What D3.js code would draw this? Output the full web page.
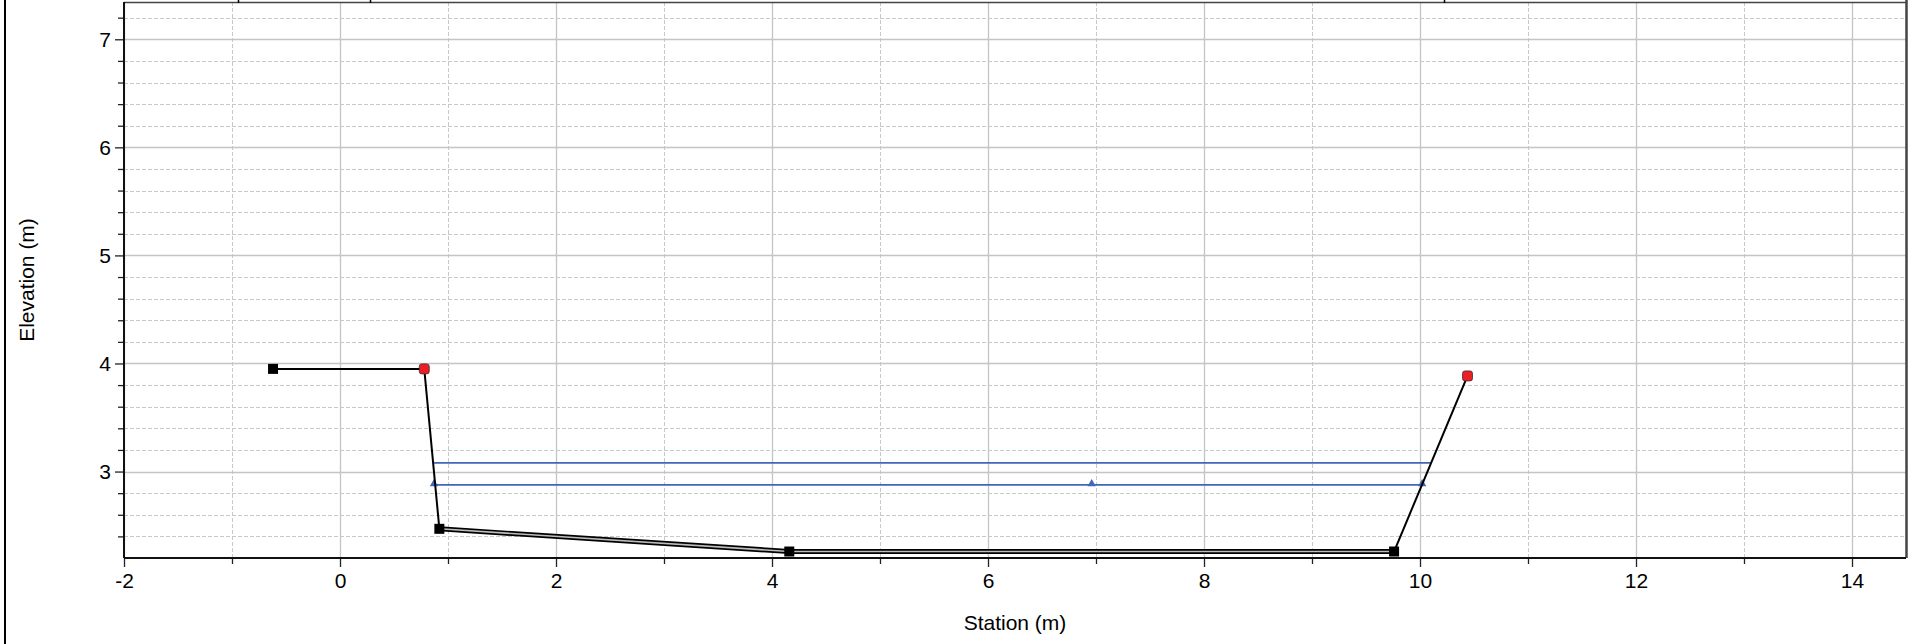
<!DOCTYPE html>
<html>
<head>
<meta charset="utf-8">
<script src="https://cdn.jsdelivr.net/npm/d3@7"></script>
<style>
html,body{margin:0;padding:0;background:#fff;}
svg{display:block;font-family:"Liberation Sans",Arial,sans-serif;}
</style>
</head>
<body>
<svg id="chart" width="1910" height="644"></svg>
<script>
// ---- data ----
const groundStation = [-0.62, 0.78, 0.92, 4.16, 9.76, 10.44];
const groundElev    = [3.95, 3.95, 2.47, 2.26, 2.26, 3.885];
const groundMarker  = ["sq", "bank", "sq", "sq", "sq", "bank"];
const linedFrom = 2, linedTo = 4; // index range drawn as lined (double) segment
const wsUpperStation = [0.86, 10.10];
const wsUpperElev    = [3.08, 3.08];
const wsLowerStation = [0.87, 6.96, 10.02];
const wsLowerElev    = [2.877, 2.877, 2.877];
const topMarks = [-0.94, 0.275, 10.22];
const xMajorTicks = [-2, 0, 2, 4, 6, 8, 10, 12, 14];
const xMinorTicks = [-1, 1, 3, 5, 7, 9, 11, 13];
const yMajorTicks = [3, 4, 5, 6, 7];
const yMinorTicks = [2.4, 2.6, 2.8, 3.2, 3.4, 3.6, 3.8, 4.2, 4.4, 4.6, 4.8, 5.2, 5.4, 5.6, 5.8, 6.2, 6.4, 6.6, 6.8, 7.2];
const xTitle = "Station (m)";
const yTitle = "Elevation (m)";

// ---- layout ----
const W = 1910, H = 644;
const m = {left:124, right:4, top:2, bottom:86};
const svg = d3.select("#chart");
const x = d3.scaleLinear().domain([-2, 14.5]).range([m.left, W - m.right]);
const y = d3.scaleLinear().domain([2.2, 7.345]).range([H - m.bottom, m.top]);
const x0 = m.left, x1 = W - m.right, y0 = H - m.bottom, y1 = m.top;
const fmt = d => String(d);

// outer left frame line
svg.append("line").attr("x1",5).attr("x2",5).attr("y1",0).attr("y2",H)
  .attr("stroke","#000").attr("stroke-width",2);

// grid
const g = svg.append("g");
g.selectAll(".ymin").data(yMinorTicks).join("line")
  .attr("x1",x0).attr("x2",x1).attr("y1",d=>Math.round(y(d))+0.5).attr("y2",d=>Math.round(y(d))+0.5)
  .attr("stroke","#c8c8c8").attr("stroke-dasharray","4,2");
g.selectAll(".xmin").data(xMinorTicks).join("line")
  .attr("y1",y0).attr("y2",y1).attr("x1",d=>Math.round(x(d))+0.5).attr("x2",d=>Math.round(x(d))+0.5)
  .attr("stroke","#c8c8c8").attr("stroke-dasharray","4,2");
g.selectAll(".ymaj").data(yMajorTicks).join("line")
  .attr("x1",x0).attr("x2",x1).attr("y1",d=>Math.round(y(d))+0.5).attr("y2",d=>Math.round(y(d))+0.5)
  .attr("stroke","#c4c4c4").attr("stroke-width",1.3);
g.selectAll(".xmaj").data(xMajorTicks).join("line")
  .attr("y1",y0).attr("y2",y1).attr("x1",d=>Math.round(x(d))+0.5).attr("x2",d=>Math.round(x(d))+0.5)
  .attr("stroke","#c4c4c4").attr("stroke-width",1.3);

// frame top/right
svg.append("line").attr("x1",x0).attr("x2",x1).attr("y1",y1+0.5).attr("y2",y1+0.5).attr("stroke","#444").attr("stroke-width",1.5);
svg.append("line").attr("x1",x1+0.5).attr("x2",x1+0.5).attr("y1",0).attr("y2",y0).attr("stroke","#444").attr("stroke-width",2.5);

// top marks
svg.selectAll(".tm").data(topMarks).join("line")
  .attr("x1",d=>Math.round(x(d))+0.5).attr("x2",d=>Math.round(x(d))+0.5).attr("y1",0).attr("y2",y1+1)
  .attr("stroke","#000").attr("stroke-width",1.5);

// axes
const xAxis = d3.axisBottom(x).tickValues(xMajorTicks).tickSize(9).tickPadding(6).tickFormat(fmt);
const xg = svg.append("g").attr("transform",`translate(0,${y0})`).call(xAxis);
const xAxisMin = d3.axisBottom(x).tickValues(xMinorTicks).tickSize(6).tickFormat("");
const xgm = svg.append("g").attr("transform",`translate(0,${y0})`).call(xAxisMin);
const yAxis = d3.axisLeft(y).tickValues(yMajorTicks).tickSize(9).tickPadding(4).tickFormat(fmt);
const yg = svg.append("g").attr("transform",`translate(${x0},0)`).call(yAxis);
const yAxisMin = d3.axisLeft(y).tickValues(yMinorTicks).tickSize(6).tickFormat("");
const ygm = svg.append("g").attr("transform",`translate(${x0},0)`).call(yAxisMin);
[xg,xgm,yg,ygm].forEach(a=>{
  a.select(".domain").remove();
  a.selectAll("line").attr("stroke","#222").attr("stroke-width",1.3);
  a.selectAll("text").attr("font-size",21).attr("fill","#000").attr("font-family","Liberation Sans, Arial, sans-serif");
});
// axis lines
svg.append("line").attr("x1",x0).attr("x2",x1).attr("y1",y0).attr("y2",y0).attr("stroke","#111").attr("stroke-width",2);
svg.append("line").attr("x1",x0).attr("x2",x0).attr("y1",y1).attr("y2",y0).attr("stroke","#111").attr("stroke-width",2);

// titles
svg.append("text").attr("x",(x0+x1)/2).attr("y",630).attr("text-anchor","middle")
  .attr("font-size",21).text(xTitle);
svg.append("text").attr("transform",`translate(34,${(y0+y1)/2}) rotate(-90)`).attr("text-anchor","middle")
  .attr("font-size",21).text(yTitle);

// water surfaces
const blue = "#4266b8";
const wsU = wsUpperStation.map((s,i)=>[s, wsUpperElev[i]]);
const wsL = wsLowerStation.map((s,i)=>[s, wsLowerElev[i]]);
const line = d3.line().x(d=>x(d[0])).y(d=>y(d[1]));
svg.append("path").attr("d",line(wsU)).attr("fill","none").attr("stroke",blue).attr("stroke-width",1.6);
svg.append("path").attr("d",line(wsL)).attr("fill","none").attr("stroke",blue).attr("stroke-width",1.6);
svg.selectAll(".tri").data(wsL).join("path")
  .attr("d",d3.symbol(d3.symbolTriangle,30))
  .attr("transform",d=>`translate(${x(d[0])},${y(d[1])-1})`)
  .attr("fill",blue);

// ground
const gp = groundStation.map((s,i)=>[s, groundElev[i], groundMarker[i]]);
const plain1 = gp.slice(0, linedFrom+1);
const lined = gp.slice(linedFrom, linedTo+1);
const plain2 = gp.slice(linedTo);
svg.append("path").attr("d",line(lined)).attr("fill","none").attr("stroke","#000").attr("stroke-width",5).attr("stroke-linejoin","round");
svg.append("path").attr("d",line(lined)).attr("fill","none").attr("stroke","#bdbdbd").attr("stroke-width",1.6).attr("stroke-linejoin","round");
[plain1, plain2].forEach(seg=>{
  svg.append("path").attr("d",line(seg)).attr("fill","none").attr("stroke","#000").attr("stroke-width",2).attr("stroke-linejoin","round");
});
// markers
svg.selectAll(".sq").data(gp.filter(d=>d[2]==="sq")).join("rect")
  .attr("x",d=>x(d[0])-5).attr("y",d=>y(d[1])-5).attr("width",10).attr("height",10).attr("fill","#000");
svg.selectAll(".bank").data(gp.filter(d=>d[2]==="bank")).join("rect")
  .attr("x",d=>x(d[0])-5).attr("y",d=>y(d[1])-5).attr("width",10).attr("height",10).attr("rx",2.5)
  .attr("fill","#ee1c24").attr("stroke","#333").attr("stroke-width",0.8);
</script>
</body>
</html>
